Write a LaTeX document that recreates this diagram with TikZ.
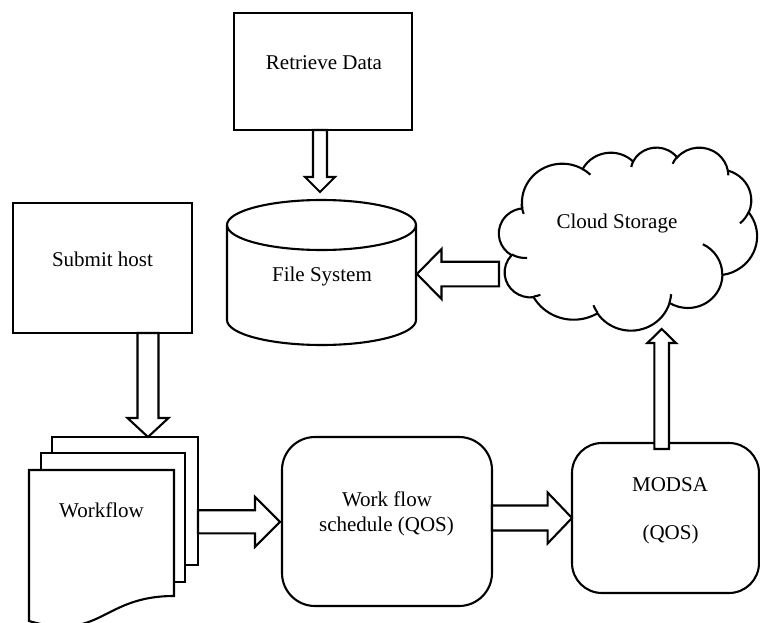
\documentclass[tikz,border=0pt]{standalone}
\usepackage{fontspec}
\setmainfont{Liberation Serif}
\usetikzlibrary{calc}
\pgfmathdeclarefunction{vp}{3}{%
  \begingroup
  \pgfmathparse{#1+atan2((#2-#3)*sin(#1)*cos(#1), #3*cos(#1)*cos(#1)+#2*sin(#1)*sin(#1))}%
  \pgfmathsmuggle\pgfmathresult
  \endgroup}
% vertical block arrow: #1 start, #2 tip, #3 shaft half width, #4 head half width, #5 head length
\newcommand\vblock[5]{\draw[arr] let \p1=#1, \p2=#2, \n1={sign(\y2-\y1)} in
  ({\x2-#3pt},\y1) -- ({\x2-#3pt},{\y2-(\n1)*#5pt}) -- ({\x2-#4pt},{\y2-(\n1)*#5pt}) -- (\x2,\y2)
  -- ({\x2+#4pt},{\y2-(\n1)*#5pt}) -- ({\x2+#3pt},{\y2-(\n1)*#5pt}) -- ({\x2+#3pt},\y1) -- cycle;}
% horizontal block arrow
\newcommand\hblock[5]{\draw[arr] let \p1=#1, \p2=#2, \n1={sign(\x2-\x1)} in
  (\x1,{\y2-#3pt}) -- ({\x2-(\n1)*#5pt},{\y2-#3pt}) -- ({\x2-(\n1)*#5pt},{\y2-#4pt}) -- (\x2,\y2)
  -- ({\x2-(\n1)*#5pt},{\y2+#4pt}) -- ({\x2-(\n1)*#5pt},{\y2+#3pt}) -- (\x1,{\y2+#3pt}) -- cycle;}
\newcommand\oarc[4]{arc[x radius=#1, y radius=#2, start angle={vp(#3,#1,#2)}, end angle={vp(#4,#1,#2)}]}
\begin{document}
\begin{tikzpicture}[x=1pt,y=-1pt,
  lw/.style={line width=2.1pt},
  box/.style={draw, lw, fill=white, inner sep=0pt, outer sep=0pt},
  ghost/.style={inner sep=0pt, outer sep=0pt},
  arr/.style={draw, lw, fill=white, line join=miter},
  lbl/.style={font=\fontsize{21}{25}\selectfont, inner sep=0pt}]
\useasboundingbox (0,0) rectangle (760,623);
\clip (0,0) rectangle (760,623);

% Retrieve Data
\node[box, minimum width=178pt, minimum height=117pt] (rd) at (323,71.5) {};
\node[lbl] (rdt) at (324,62.5) {Retrieve Data};

% Submit host
\node[box, minimum width=179pt, minimum height=130pt] (sh) at (102.5,268) {};
\node[lbl] (sht) at (102.5,259.5) {Submit host};

% File System cylinder
\node[ghost, minimum width=189pt, minimum height=145pt] (fs) at (321.5,272.5) {};
\draw[lw, fill=white] (227,225) -- (227,320) arc[start angle=180, end angle=0, x radius=94.5, y radius=25] -- (416,225);
\draw[lw] (321.5,225) ellipse[x radius=94.5, y radius=25];
\node[lbl] (fst) at (322,276) {File System};

% Cloud Storage
\node[ghost, minimum width=258pt, minimum height=183pt] (cs) at (628,238.5) {};
\begin{scope}[shift={(499,147)}, xscale=258/432, yscale=183/432]
\draw[lw, fill=white] (39,143.7)
  \oarc{67.53}{91.90}{-190.48748}{-66.70695}
  \oarc{53.33}{72.67}{-144.10238}{-54.15715}
  \oarc{43.65}{59.45}{-145.80792}{-46.0849}
  \oarc{48.57}{65.95}{-130.98607}{-13.74434}
  \oarc{53.33}{72.73}{-78.70888}{30.31804}
  \oarc{67.75}{92.20}{-46.26725}{84.00175}
  \oarc{57.85}{78.67}{0.62502}{114.65835}
  \oarc{67.52}{92.15}{22.4516}{137.62415}
  \oarc{77.20}{105.43}{66.24263}{141.95365}
  \oarc{43.60}{59.18}{-274.94208}{-128.20651}
  \oarc{43.45}{59.45}{-246.8285}{-94.30965}
  -- cycle;
\draw[lw]
  (46.93,261.77) \oarc{43.45}{59.45}{86.742}{113.1715}
  (69.28,348.99) \oarc{43.60}{59.18}{73.61047}{85.05794}
  (164.78,390.90) \oarc{67.52}{92.15}{137.62415}{151.70525}
  (288.27,347.51) \oarc{67.52}{92.15}{6.45327}{22.45162}
  (341.29,229.54) \oarc{57.85}{78.67}{-70.29235}{0.62502}
  (417.98,153.54) \oarc{53.33}{72.73}{30.31803}{58.06953}
  (383.24,54.26) \oarc{48.57}{65.95}{-13.74433}{1.11457}
  (290.78,39.52) \oarc{48.57}{65.95}{-149.18145}{-130.98608}
  (221.41,47.20) \oarc{43.65}{59.45}{-163.49427}{-145.80792}
  (140.00,51.92) \oarc{67.53}{91.90}{-66.70695}{-54.3876}
  (41.27,157.89) \oarc{67.53}{91.90}{154.13563}{172.92433};
\end{scope}
\node[lbl] (cst) at (617,223.5) {Cloud Storage};

% Workflow (multi-document)
\node[box, minimum width=146pt, minimum height=128pt] (wfb) at (125,501) {};
\node[box, minimum width=144pt, minimum height=129pt] (wfm) at (113,517.5) {};
\node[ghost, minimum width=145pt, minimum height=126pt] (wf) at (101.5,533) {};
\draw[lw, fill=white] (wf.north west) -- (wf.north east) -- (wf.south east)
  .. controls (101.5,596) and (101.5,642) .. (29,621) -- cycle;
\node[lbl] (wft) at (101.5,510) {Workflow};

% Work flow schedule
\node[box, rounded corners=33pt, minimum width=210pt, minimum height=169pt] (ws) at (387,521.5) {};
\node[lbl] (wst1) at (387,499.5) {Work flow};
\node[lbl] (wst2) at (386.5,526.5) {schedule (QOS)};

% MODSA
\node[box, rounded corners=30pt, minimum width=187pt, minimum height=150pt] (mo) at (665.5,518) {};
\node[lbl] (mot1) at (670,484.5) {MODSA};
\node[lbl] (mot2) at (670.5,534.5) {(QOS)};

% block arrows
\vblock{(rd.south)}{($(fs.north)+(-1.5,-8)$)}{7}{15}{15}
\hblock{(cs.west)}{($(fs.east)+(1,1.5)$)}{12.3}{25}{24.5}
\vblock{(sh.south)}{($(wfb.north)+(23,0)$)}{10.5}{20.5}{19}
\hblock{(wfb.east)}{($(ws.west)+(-2,0.3)$)}{11.6}{25}{25}
\hblock{(ws.east)}{(mo.west)}{12.5}{25.5}{24.4}
\vblock{($(mo.north)+(0,6)$)}{($(cs.south)+(33.7,-1)$)}{7.3}{14.3}{14}
\end{tikzpicture}
\end{document}
